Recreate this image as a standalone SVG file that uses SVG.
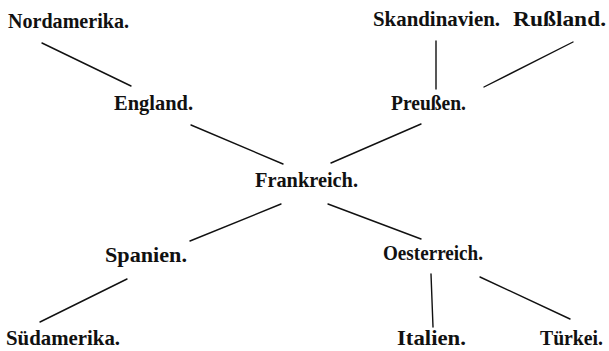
<svg xmlns="http://www.w3.org/2000/svg" width="609" height="351" viewBox="0 0 609 351">
  <style>
    .lbl { font-family: "Liberation Serif", "DejaVu Serif", serif; font-size: 21px; font-weight: bold; fill: #111; }
    .edge { stroke: #111; stroke-width: 1.4; fill: none; stroke-linecap: round; }
  </style>
  <rect width="609" height="351" fill="#fff"/>

  <!-- connectors -->
  <g id="connectors">
    <line class="edge" x1="42" y1="43" x2="131" y2="86"/>
    <line class="edge" x1="191" y1="125" x2="283" y2="164"/>
    <line class="edge" x1="436" y1="41" x2="436" y2="89"/>
    <line class="edge" x1="573" y1="42" x2="484" y2="87"/>
    <line class="edge" x1="421" y1="124" x2="331" y2="163"/>
    <line class="edge" x1="281" y1="204" x2="190" y2="241"/>
    <line class="edge" x1="127" y1="279" x2="40" y2="322"/>
    <line class="edge" x1="328" y1="204" x2="421" y2="239"/>
    <line class="edge" x1="431" y1="274" x2="433" y2="327"/>
    <line class="edge" x1="480" y1="277" x2="570" y2="319"/>
  </g>

  <!-- nodes -->
  <g id="nordamerika"><text class="lbl" x="8" y="28" textLength="121" lengthAdjust="spacingAndGlyphs">Nordamerika.</text></g>
  <g id="england"><text class="lbl" x="114" y="110" textLength="79" lengthAdjust="spacingAndGlyphs">England.</text></g>
  <g id="skandinavien"><text class="lbl" x="373" y="26" textLength="127" lengthAdjust="spacingAndGlyphs">Skandinavien.</text></g>
  <g id="russland"><text class="lbl" x="513" y="26" textLength="93" lengthAdjust="spacingAndGlyphs">Rußland.</text></g>
  <g id="preussen"><text class="lbl" x="391" y="110" textLength="75" lengthAdjust="spacingAndGlyphs">Preußen.</text></g>
  <g id="frankreich"><text class="lbl" x="255" y="187" textLength="103" lengthAdjust="spacingAndGlyphs">Frankreich.</text></g>
  <g id="spanien"><text class="lbl" x="105" y="262" textLength="82" lengthAdjust="spacingAndGlyphs">Spanien.</text></g>
  <g id="oesterreich"><text class="lbl" x="383" y="260" textLength="100" lengthAdjust="spacingAndGlyphs">Oesterreich.</text></g>
  <g id="suedamerika"><text class="lbl" x="6" y="345" textLength="114" lengthAdjust="spacingAndGlyphs">Südamerika.</text></g>
  <g id="italien"><text class="lbl" x="397" y="345" textLength="69" lengthAdjust="spacingAndGlyphs">Italien.</text></g>
  <g id="tuerkei"><text class="lbl" x="540" y="345" textLength="63" lengthAdjust="spacingAndGlyphs">Türkei.</text></g>
</svg>
